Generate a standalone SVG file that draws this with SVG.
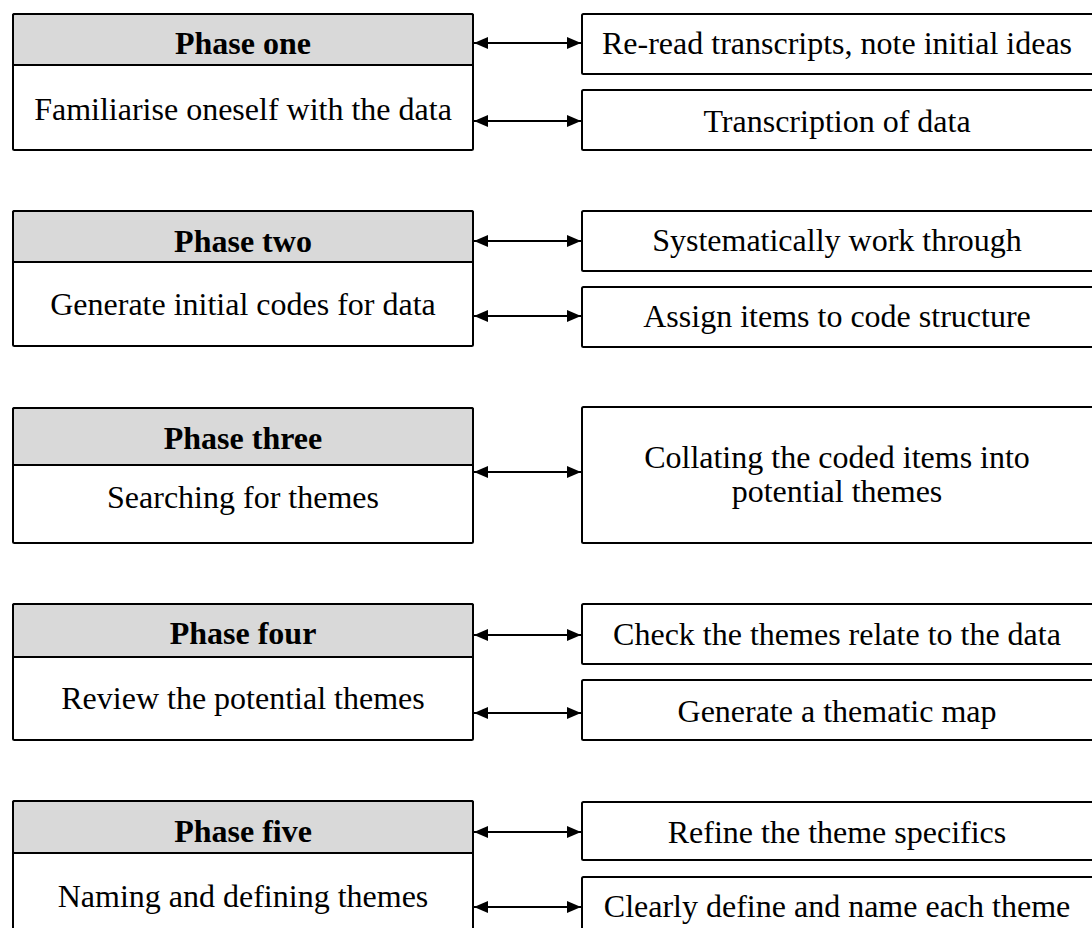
<svg xmlns="http://www.w3.org/2000/svg" width="1092" height="928" viewBox="0 0 1092 928">
  <style>
    .box { fill: #ffffff; stroke: #000000; stroke-width: 2; }
    .head { fill: #d9d9d9; stroke: #000000; stroke-width: 2; }
    .t { font-family: "Liberation Serif", "Times New Roman", serif; font-size: 32px; fill: #000000; text-anchor: middle; }
    .b { font-weight: bold; }
    .link { stroke: #000000; stroke-width: 2; fill: none; marker-start: url(#tip); marker-end: url(#tip); }
  </style>
  <defs>
    <marker id="tip" viewBox="0 0 14 12" refX="14" refY="6" markerWidth="14" markerHeight="12" markerUnits="userSpaceOnUse" orient="auto-start-reverse">
      <path d="M0,0 L14,6 L0,12 Z" fill="#000000"/>
    </marker>
  </defs>
  <rect width="1092" height="928" fill="#ffffff"/>

  <!-- Phase one -->
  <g id="phase-one">
    <rect class="box" x="13" y="14" width="460" height="136" rx="1.5"/>
    <rect class="head" x="13" y="14" width="460" height="51" rx="1.5"/>
    <text class="t b" x="243" y="54">Phase one</text>
    <text class="t" x="243" y="120">Familiarise oneself with the data</text>
  </g>
  <g id="p1-reread">
    <rect class="box" x="582" y="14" width="520" height="60" rx="1.5"/>
    <text class="t" x="837" y="54">Re-read transcripts, note initial ideas</text>
  </g>
  <g id="p1-transcription">
    <rect class="box" x="582" y="90" width="520" height="60" rx="1.5"/>
    <text class="t" x="837" y="132">Transcription of data</text>
  </g>

  <!-- Phase two -->
  <g id="phase-two">
    <rect class="box" x="13" y="211" width="460" height="135" rx="1.5"/>
    <rect class="head" x="13" y="211" width="460" height="51" rx="1.5"/>
    <text class="t b" x="243" y="252">Phase two</text>
    <text class="t" x="243" y="315">Generate initial codes for data</text>
  </g>
  <g id="p2-systematic">
    <rect class="box" x="582" y="211" width="520" height="60" rx="1.5"/>
    <text class="t" x="837" y="251">Systematically work through</text>
  </g>
  <g id="p2-assign">
    <rect class="box" x="582" y="287" width="520" height="60" rx="1.5"/>
    <text class="t" x="837" y="327">Assign items to code structure</text>
  </g>

  <!-- Phase three -->
  <g id="phase-three">
    <rect class="box" x="13" y="408" width="460" height="135" rx="1.5"/>
    <rect class="head" x="13" y="408" width="460" height="57" rx="1.5"/>
    <text class="t b" x="243" y="449">Phase three</text>
    <text class="t" x="243" y="508">Searching for themes</text>
  </g>
  <g id="p3-collating">
    <rect class="box" x="582" y="407" width="520" height="136" rx="1.5"/>
    <text class="t" x="837" y="468">Collating the coded items into</text>
    <text class="t" x="837" y="502">potential themes</text>
  </g>

  <!-- Phase four -->
  <g id="phase-four">
    <rect class="box" x="13" y="604" width="460" height="136" rx="1.5"/>
    <rect class="head" x="13" y="604" width="460" height="53" rx="1.5"/>
    <text class="t b" x="243" y="644">Phase four</text>
    <text class="t" x="243" y="709">Review the potential themes</text>
  </g>
  <g id="p4-check">
    <rect class="box" x="582" y="604" width="520" height="60" rx="1.5"/>
    <text class="t" x="837" y="645">Check the themes relate to the data</text>
  </g>
  <g id="p4-map">
    <rect class="box" x="582" y="680" width="520" height="60" rx="1.5"/>
    <text class="t" x="837" y="722">Generate a thematic map</text>
  </g>

  <!-- Phase five -->
  <g id="phase-five">
    <rect class="box" x="13" y="801" width="460" height="140" rx="1.5"/>
    <rect class="head" x="13" y="801" width="460" height="52" rx="1.5"/>
    <text class="t b" x="243" y="842">Phase five</text>
    <text class="t" x="243" y="907">Naming and defining themes</text>
  </g>
  <g id="p5-refine">
    <rect class="box" x="582" y="802" width="520" height="58" rx="1.5"/>
    <text class="t" x="837" y="843">Refine the theme specifics</text>
  </g>
  <g id="p5-define">
    <rect class="box" x="582" y="877" width="520" height="64" rx="1.5"/>
    <text class="t" x="837" y="917">Clearly define and name each theme</text>
  </g>

  <!-- Two-way connectors between phases and their steps -->
  <g id="connectors">
    <line class="link" x1="474" y1="43" x2="581" y2="43"/>
    <line class="link" x1="474" y1="121" x2="581" y2="121"/>
    <line class="link" x1="474" y1="241" x2="581" y2="241"/>
    <line class="link" x1="474" y1="316" x2="581" y2="316"/>
    <line class="link" x1="474" y1="472" x2="581" y2="472"/>
    <line class="link" x1="474" y1="635" x2="581" y2="635"/>
    <line class="link" x1="474" y1="713" x2="581" y2="713"/>
    <line class="link" x1="474" y1="832" x2="581" y2="832"/>
    <line class="link" x1="474" y1="907" x2="581" y2="907"/>
  </g>
</svg>
